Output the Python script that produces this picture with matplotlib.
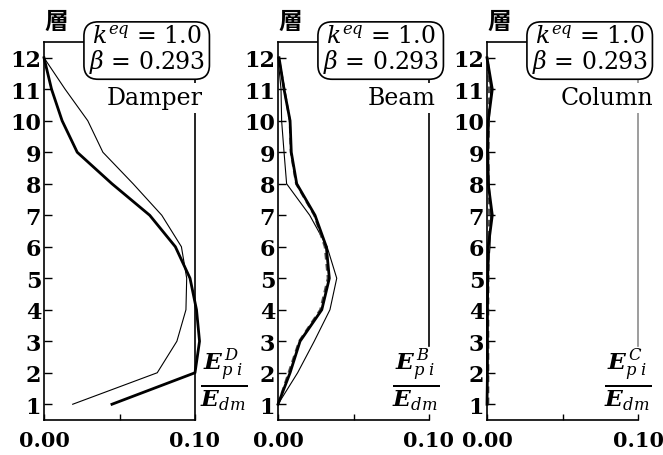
import numpy as np
import matplotlib.pyplot as plt

plt.rcParams['font.family'] = ['DejaVu Serif']
plt.rcParams['mathtext.fontset'] = 'dejavuserif'

# 層 (階) 1..12
levels = np.arange(1, 13)

# Damper
damper_thick = [0.045, 0.100, 0.103, 0.101, 0.0967, 0.087, 0.070, 0.045, 0.022, 0.012, 0.005, 0.0]
damper_thin = [0.019, 0.075, 0.088, 0.094, 0.0945, 0.091, 0.078, 0.059, 0.039, 0.029, 0.014, 0.0]

# Beam
beam_thick = [0.0, 0.008, 0.0146, 0.029, 0.034, 0.032, 0.0245, 0.0124, 0.0088, 0.008, 0.0040, 0.0007]
beam_thin = [0.0, 0.013, 0.024, 0.0344, 0.0389, 0.0325, 0.021, 0.0057, 0.004, 0.0024, 0.002, 0.0]
beam_dash = [0.0, 0.007, 0.0140, 0.028, 0.033, 0.031, 0.0240, 0.0120, 0.0085, 0.0078, 0.0042, 0.0005]

# Column
column_thick = [0.0, 0.0003, 0.0003, 0.0003, 0.0005, 0.0008, 0.0035, 0.0008, 0.0005, 0.0008, 0.0035, 0.0]
column_thin = [0.0, 0.0002, 0.0002, 0.0002, 0.0003, 0.002, 0.0025, 0.0015, 0.0003, 0.0015, 0.0025, 0.0]
column_dash = [0.0008, 0.0008, 0.0008, 0.0008, 0.0009, 0.0012, 0.0015, 0.0012, 0.0009, 0.0012, 0.0014, 0.0006]

names = ['Damper', 'Beam', 'Column']
sups = ['D', 'B', 'C']
thick = [damper_thick, beam_thick, column_thick]
thin = [damper_thin, beam_thin, column_thin]
dash = [None, beam_dash, column_dash]

lefts = [44 / 663, 278 / 663, 487 / 663]
name_x = [1.053, 1.046, 1.10]
frac_x = [1.19, 0.914, 0.934]
right_low = [0.5, 2.85, 2.85]
right_col = ['k', 'k', '0.55']

fig = plt.figure(figsize=(6.63, 4.56), dpi=100)

for i in range(3):
    ax = fig.add_axes([lefts[i], 1 - 421 / 456, 151 / 663, 378 / 456])
    ax.plot(thin[i], levels, color='k', lw=0.8, zorder=2, clip_on=False)
    if dash[i] is not None:
        ax.plot(dash[i], levels, color='0.3', lw=1.6, ls=(0, (3, 2)), zorder=2, clip_on=False)
    ax.plot(thick[i], levels, color='k', lw=2.0, zorder=2, clip_on=False)

    ax.set_xlim(0, 0.1)
    ax.set_ylim(0.5, 12.5)
    ax.set_yticks(levels)
    ax.set_yticklabels([str(v) for v in levels], fontsize=16, fontweight='bold')
    ax.set_xticks([0, 0.05, 0.1])
    ax.set_xticklabels(['0.00', '', '0.10'], fontsize=15, fontweight='bold')
    ax.tick_params(direction='in', length=6, width=1, pad=2)
    ax.tick_params(axis='x', length=4, pad=7)
    for s in ax.spines.values():
        s.set_linewidth(1.2)
    ax.spines['right'].set_color(right_col[i])
    ax.spines['right'].set_bounds(right_low[i], 12.5)

    # 層 label
    ax.text(0.08, 1.025, '層', transform=ax.transAxes, ha='center', va='bottom',
            fontsize=17, fontweight='bold', family=['Noto Sans CJK JP'])

    # parameter box
    ax.text(0.68, 0.98, '$k^{eq}$ = 1.0\n$\\beta$ = 0.293', transform=ax.transAxes,
            ha='center', va='center', fontsize=17, linespacing=0.95,
            bbox=dict(boxstyle='round,pad=0.2,rounding_size=0.6', fc='white', ec='k', lw=1.2),
            zorder=5)

    # name label
    ax.text(name_x[i], 0.852, names[i], transform=ax.transAxes, ha='right', va='center',
            fontsize=17, zorder=5,
            bbox=dict(boxstyle='square,pad=0.15', fc='white', ec='none'))

    # energy ratio label
    ax.text(frac_x[i], 0.108,
            r'$\frac{\mathbfit{E}^{\,%s}_{p\;i}}{\mathbfit{E}_{dm}}$' % sups[i],
            transform=ax.transAxes, ha='center', va='center', fontsize=24, zorder=5)

fig.savefig('out.png', dpi=100)
